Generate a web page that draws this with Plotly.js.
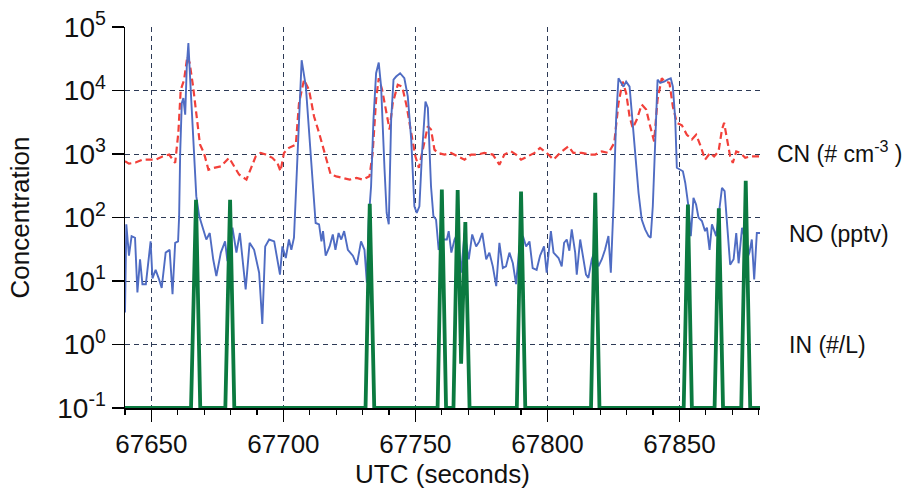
<!DOCTYPE html>
<html>
<head>
<meta charset="utf-8">
<script src="https://cdn.plot.ly/plotly-3.0.1.min.js"></script>
<style>html,body{margin:0;padding:0;background:#fff}#chart{width:917px;height:497px}</style>
</head>
<body>
<div id="chart"></div>
<script>
// NO (pptv) - blue line
const noTime = [67640, 67640.5, 67641.5, 67642.5, 67643.8, 67644.7, 67645.7, 67646.6, 67647.9, 67649.7, 67650.4, 67651.6, 67652.9, 67653.9, 67655.4, 67656.9, 67658.0, 67659.0, 67660.1, 67660.5, 67660.9, 67661.5, 67662.1, 67662.8, 67663.4, 67664.0, 67664.9, 67665.8, 67667.0, 67668.1, 67669.3, 67670.8, 67672.1, 67673.4, 67674.6, 67676.3, 67677.9, 67678.8, 67680.7, 67682.2, 67683.5, 67685.7, 67687.2, 67688.9, 67690.8, 67692.0, 67693.1, 67694.6, 67696.5, 67698.7, 67699.6, 67700.9, 67702.1, 67703.0, 67704.0, 67705.3, 67706.9, 67708.5, 67710.4, 67712.2, 67713.5, 67714.4, 67715.0, 67716.0, 67717.5,
  67718.7, 67719.7, 67720.9, 67721.9, 67723.0, 67724.4, 67726.3, 67727.8, 67729.4, 67730.7, 67731.6, 67732.3, 67733.2, 67734.1, 67735.1, 67736.1, 67737.0, 67738.3, 67739.1, 67739.9, 67740.8, 67741.7, 67742.7, 67744.2, 67745.8, 67747.1, 67748.4, 67749.6, 67750.5, 67751.5, 67752.5, 67753.8, 67754.7, 67755.9, 67756.8, 67757.8, 67758.8, 67760.4, 67761.9, 67762.6, 67763.6, 67764.8, 67766.0, 67767.3, 67768.6, 67770.2, 67771.5, 67773.0, 67774.2, 67775.3, 67776.8, 67778.0, 67779.3, 67780.6, 67781.8, 67783.1, 67784.3, 67785.6, 67786.9, 67788.1, 67789.4, 67790.7, 67791.9, 67793.2, 67794.4, 67795.9, 67797.2,
  67798.7, 67799.7, 67801.3, 67802.3, 67804.2, 67805.4, 67806.3, 67807.3, 67808.3, 67809.2, 67810.5, 67811.1, 67812.4, 67813.4, 67814.6, 67815.5, 67816.8, 67818.1, 67819.3, 67820.6, 67821.8, 67823.1, 67824.0, 67825.0, 67826.0, 67826.9, 67827.8, 67828.8, 67829.8, 67831.1, 67831.9, 67833.2, 67834.5, 67835.7, 67837.0, 67838.3, 67839.1, 67839.9, 67840.8, 67841.7, 67842.7, 67844.2, 67845.5, 67846.7, 67847.5, 67848.4, 67849.0, 67850.3, 67851.3, 67852.2, 67853.4, 67854.3, 67855.3, 67856.3, 67857.2, 67858.5, 67859.7, 67860.4, 67861.4, 67862.3, 67863.9, 67864.8, 67866.1, 67867.1, 67868.2, 67869.2, 67870.5, 67871.5, 67872.4, 67873.7, 67874.5, 67875.5, 67876.5, 67877.4, 67878.3, 67879.3, 67880.5];
const noValues = [3.2, 78, 25, 51, 48, 6.6, 22, 8.9, 8.9, 42, 11, 15, 10.6, 7.8, 28, 31, 6.2, 40, 42, 105, 1040, 6300, 7600, 4150, 24000, 56000, 10200, 1900, 217, 105, 73, 45, 57, 22, 12, 28, 42, 20.5, 69, 28, 57, 7.4, 40, 31, 13.5, 2.1, 35, 45, 42, 12.6, 35, 23, 45, 31, 48, 820, 30000, 11500, 1040, 82, 78, 42, 61, 25, 35,
  54, 31, 57, 45, 61, 31, 25, 18, 42, 31, 9.4, 93, 310, 3460, 18700, 27500, 11500, 570, 118, 78, 3460, 14800, 16600, 18700, 15600, 8100, 1700, 150, 118, 150, 1040, 6700, 5300, 310, 105, 93, 31, 45, 45, 61, 28, 45, 57, 13.5, 57, 22, 54, 35, 42, 57, 22, 28, 17, 8.3, 40, 16, 17, 28, 19, 8.9, 35, 51, 35, 42, 16, 15, 25,
  35, 13.5, 61, 28, 23, 17, 40, 45, 30, 65, 28, 12.6, 45, 25, 12.6, 11.2, 22, 31, 17, 22, 31, 51, 13.5, 150, 3460, 15600, 13200, 11500, 13800, 11500, 4700, 1040, 245, 93, 65, 51, 48, 150, 1900, 14800, 13200, 13800, 14800, 15600, 11500, 3460, 606, 570, 535, 350, 150, 51, 204, 160, 100, 88, 61, 69, 31, 78, 51, 105, 293, 260, 57, 18, 22, 57, 19, 69, 51, 22, 28, 45, 10.6, 57, 57];

// CN (# cm-3) - red dashed line
const cnTime = [67640, 67641.5, 67644, 67646.6, 67649.7, 67651.6, 67654.2, 67656.7, 67659, 67660.2, 67661.1, 67662.4, 67663.6, 67664.5, 67665.8, 67667, 67668.4, 67669.9, 67671.6, 67673.7, 67676.3, 67679.4, 67681.3, 67683.2, 67686.0, 67687.6, 67689.5, 67691.4, 67693.3, 67695.8, 67697.7, 67698.9, 67700.2, 67702.1, 67704.7, 67705.9, 67707.8, 67709.7, 67711.6, 67713.5, 67716, 67717.9,
  67720, 67722.6, 67725.1, 67727.7, 67730.1, 67732.6, 67733.8, 67735.1, 67736.1, 67737.4, 67738.9, 67740.2, 67741.4, 67743.3, 67745.0, 67746.7, 67748.4, 67750, 67751.3, 67752.8, 67754.7, 67755.9, 67757.2, 67758.5, 67761, 67763.5, 67766, 67768.6, 67771.1, 67773.6, 67776.1, 67779.3, 67781.8, 67783.7, 67786.2, 67788.1, 67790, 67792.6, 67795.1,
  67797.2, 67799.7, 67802.3, 67804.8, 67807.9, 67809.8, 67813, 67816.2, 67818.1, 67820.6, 67823.1, 67825.3, 67826.9, 67828.5, 67829.8, 67831.1, 67832.3, 67833.8, 67835.7, 67837.4, 67838.9, 67840.4, 67841.7, 67843.3, 67844.6, 67846.2, 67847.5, 67849, 67850.9, 67852.8, 67854.7, 67856.3, 67857.8, 67859.7, 67861.6, 67863.1, 67864.8, 67866.1, 67866.9, 67867.9, 67869.2, 67870.2, 67871.5, 67873, 67874.9, 67876.8, 67878.7, 67880.5];
const cnValues = [770, 705, 735, 815, 815, 815, 915, 980, 725, 2150, 10200, 14800, 34500, 27000, 11500, 3900, 1410, 1040, 565, 605, 640, 870, 640, 475, 395, 565, 915, 1040, 980, 870, 725, 535, 1040, 1250, 1410, 6300, 14800, 10200, 3900, 2150, 915, 475,
  445, 420, 395, 420, 395, 445, 1040, 7200, 15600, 10200, 4500, 2430, 6300, 12300, 11500, 5600, 2150, 915, 605, 1170, 2740, 2430, 1170, 1040, 980, 1040, 915, 815, 980, 980, 1040, 980, 680, 980, 1100, 980, 815, 915, 1040,
  1250, 1040, 815, 1040, 1320, 1040, 1040, 980, 980, 1100, 1040, 1490, 6300, 13800, 9100, 3900, 2570, 3460, 6000, 5000, 2740, 1580, 7200, 15600, 13800, 13200, 5600, 3100, 2830, 2010, 1700, 2010, 1410, 815, 1040, 915, 1100, 2430, 3100, 1700, 915, 725, 1100, 1040, 870, 915, 915, 915];

// IN (#/L) - green spikes
const inTime = [67640, 67665.0, 67666.9, 67668.5, 67678.0, 67679.8, 67681.4, 67731.1, 67732.7, 67734.4, 67758.4, 67760.0, 67761.6, 67764.4, 67766.0, 67767.3, 67768.9, 67770.5, 67788.4, 67790.0, 67791.6, 67816.5, 67818.1, 67819.7, 67851.6, 67853.2, 67854.7, 67863.3, 67864.9, 67866.5, 67873.4, 67875.1, 67876.8, 67880.5];
const inValues = [0.1, 0.1, 190, 0.1, 0.1, 190, 0.1, 0.1, 165, 0.1, 0.1, 275, 0.1, 0.1, 270, 0.5, 85, 0.1, 0.1, 257, 0.1, 0.1, 245, 0.1, 0.1, 160, 0.1, 0.1, 140, 0.1, 0.1, 380, 0.1, 0.1];

// axis ticks and labels
const yTickVals = [0.1, 1, 10, 100, 1000, 10000, 100000];
const yTickText = ['10<sup>-1</sup>', '10<sup>0</sup>', '10<sup>1</sup>', '10<sup>2</sup>', '10<sup>3</sup>', '10<sup>4</sup>', '10<sup>5</sup>'];
const seriesLabels = ['CN (# cm<sup>-3</sup> )', 'NO (pptv)', 'IN (#/L)'];

const FONT = 'Liberation Sans, Arial, Helvetica, sans-serif';
const GRID = '#2d3a56';

const traces = [
  {x: cnTime, y: cnValues, type: 'scatter', mode: 'lines', line: {color: '#f2403a', width: 2.2, dash: '7px,4px'}, hoverinfo: 'skip'},
  {x: noTime, y: noValues, type: 'scatter', mode: 'lines', line: {color: '#4f6cc3', width: 1.9}, hoverinfo: 'skip'},
  {x: inTime, y: inValues, type: 'scatter', mode: 'lines', line: {color: '#0b7a40', width: 3.8}, hoverinfo: 'skip'}
];

const layout = {
  width: 917, height: 497,
  margin: {l: 125, r: 157, t: 27, b: 89},
  paper_bgcolor: '#fff', plot_bgcolor: '#fff',
  showlegend: false,
  font: {family: FONT, color: '#111'},
  xaxis: {
    range: [67640, 67880.5],
    tick0: 67650, dtick: 50, tickformat: 'd',
    ticks: 'outside', ticklen: 12, tickwidth: 1.5, tickcolor: '#000',
    showline: true, linecolor: '#000', linewidth: 1.5,
    showgrid: true, gridcolor: GRID, gridwidth: 1, griddash: '5px,4px',
    zeroline: false,
    minor: {tick0: 67640, dtick: 10, ticks: 'outside', ticklen: 5, tickwidth: 1.2, tickcolor: '#000', showgrid: false},
    tickfont: {family: FONT, size: 26, color: '#111'},
    title: {text: 'UTC (seconds)', font: {family: FONT, size: 26, color: '#111'}, standoff: 4}
  },
  yaxis: {
    type: 'log',
    range: [-1, 5],
    tickvals: yTickVals, ticktext: yTickText,
    ticks: 'outside', ticklen: 12, tickwidth: 1.5, tickcolor: '#000',
    showline: true, linecolor: '#000', linewidth: 1.5,
    showgrid: true, gridcolor: GRID, gridwidth: 1, griddash: '5px,4px',
    zeroline: false,
    tickfont: {family: FONT, size: 28, color: '#111'},
    title: {text: 'Concentration', font: {family: FONT, size: 26, color: '#111'}, standoff: 20}
  },
  annotations: [
    {xref: 'paper', yref: 'y', x: 1.0236, y: 3.03, xanchor: 'left', yanchor: 'middle', text: seriesLabels[0], showarrow: false, font: {family: FONT, size: 23, color: '#111'}},
    {xref: 'paper', yref: 'y', x: 1.0425, y: 1.74, xanchor: 'left', yanchor: 'middle', text: seriesLabels[1], showarrow: false, font: {family: FONT, size: 23, color: '#111'}},
    {xref: 'paper', yref: 'y', x: 1.0425, y: 0.0, xanchor: 'left', yanchor: 'middle', text: seriesLabels[2], showarrow: false, font: {family: FONT, size: 23, color: '#111'}}
  ]
};

Plotly.newPlot('chart', traces, layout, {staticPlot: true, displayModeBar: false});
</script>
</body>
</html>
